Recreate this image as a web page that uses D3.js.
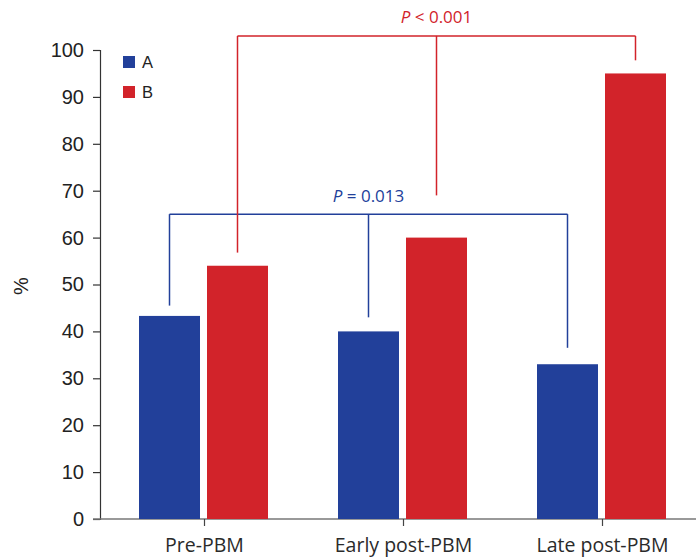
<!DOCTYPE html>
<html>
<head>
<meta charset="utf-8">
<script src="https://cdn.jsdelivr.net/npm/d3@7"></script>
<style>
  body { margin: 0; background: #fff; }
  svg { display: block; }
</style>
</head>
<body>
<div id="chart"></div>
<script>
// chart data
var categories = ["Pre-PBM", "Early post-PBM", "Late post-PBM"];
var seriesNames = ["A", "B"];
var valuesA = [43.3, 40.0, 33.0];
var valuesB = [54.0, 60.0, 95.0];
var yTicks = [0, 10, 20, 30, 40, 50, 60, 70, 80, 90, 100];
// significance brackets: series index, bracket level (value), leg end values, label
var bracketA = { series: 0, level: 65.0, legs: [45.5, 43.0, 36.5], label: ["P", " = 0.013"] };
var bracketB = { series: 1, level: 103.0, legs: [56.8, 69.0, 97.8], label: ["P", " < 0.001"] };

var colors = ["#22409a", "#d2232a"];

var W = 696, H = 560;
var svg = d3.select("#chart").append("svg")
  .attr("width", W).attr("height", H);

// scales
var x = d3.scalePoint().domain(categories).range([204, 602]);
var y = d3.scaleLinear().domain([0, 100]).range([519, 50]);
var barW = 61;
var offsets = [-65, 3];

// y axis
var yAxis = svg.append("g")
  .attr("transform", "translate(100,0)")
  .call(d3.axisLeft(y).tickValues(yTicks).tickSize(7).tickPadding(9));
yAxis.select(".domain").attr("stroke", "#333").attr("stroke-width", 1.2);
yAxis.selectAll("line").attr("stroke", "#333").attr("stroke-width", 1.2);
yAxis.selectAll("text")
  .style("font-family", "'Liberation Sans', Arial, sans-serif")
  .style("font-size", "20px").attr("fill", "#222");

// x axis
var xAxis = svg.append("g")
  .attr("transform", "translate(0,519)")
  .call(d3.axisBottom(x).tickSize(7).tickPadding(12).tickSizeOuter(0));
xAxis.select(".domain").attr("d", "M93,0H696").attr("stroke", "#777").attr("stroke-width", 1.5);
xAxis.selectAll("line").attr("stroke", "#444").attr("stroke-width", 1.2);
xAxis.selectAll("text")
  .style("font-family", "'Open Sans', 'Noto Sans', sans-serif")
  .style("font-size", "19.5px").attr("fill", "#2a2a2a");

// y label
svg.append("text")
  .attr("transform", "translate(28,286) rotate(-90)")
  .attr("text-anchor", "middle")
  .style("font-family", "'Liberation Sans', Arial, sans-serif")
  .style("font-size", "20px").attr("fill", "#222")
  .text("%");

// bars
[valuesA, valuesB].forEach(function(vals, s) {
  svg.append("g").selectAll("rect")
    .data(vals)
    .enter().append("rect")
    .attr("x", function(d, i) { return x(categories[i]) + offsets[s]; })
    .attr("y", function(d) { return y(d); })
    .attr("width", barW)
    .attr("height", function(d) { return y(0) - y(d); })
    .attr("fill", colors[s]);
});

// legend
var legend = svg.append("g").attr("transform", "translate(123,56)");
seriesNames.forEach(function(n, i) {
  var g = legend.append("g").attr("transform", "translate(0," + i * 30 + ")");
  g.append("rect").attr("width", 12).attr("height", 12).attr("fill", colors[i]);
  g.append("text").attr("x", 19).attr("y", 12)
    .style("font-family", "'Liberation Sans', Arial, sans-serif")
    .style("font-size", "16.5px").attr("fill", "#222").text(n);
});

// significance brackets
function drawBracket(b) {
  var c = colors[b.series];
  var xs = categories.map(function(cat) { return x(cat) + offsets[b.series] + barW / 2; });
  var yl = y(b.level);
  var g = svg.append("g").attr("fill", "none").attr("stroke", c).attr("stroke-width", 1.5);
  g.append("path").attr("d", "M" + xs[0] + "," + yl + "H" + xs[2]);
  b.legs.forEach(function(v, i) {
    g.append("path").attr("d", "M" + xs[i] + "," + yl + "V" + y(v));
  });
  var t = svg.append("text")
    .attr("x", xs[1]).attr("y", yl - 12.5)
    .attr("text-anchor", "middle")
    .style("font-family", "'Open Sans', 'Noto Sans', sans-serif")
    .style("font-size", "17px").attr("fill", c);
  t.append("tspan").style("font-style", "italic").text(b.label[0]);
  t.append("tspan").text(b.label[1]);
}
drawBracket(bracketA);
drawBracket(bracketB);
</script>
</body>
</html>
